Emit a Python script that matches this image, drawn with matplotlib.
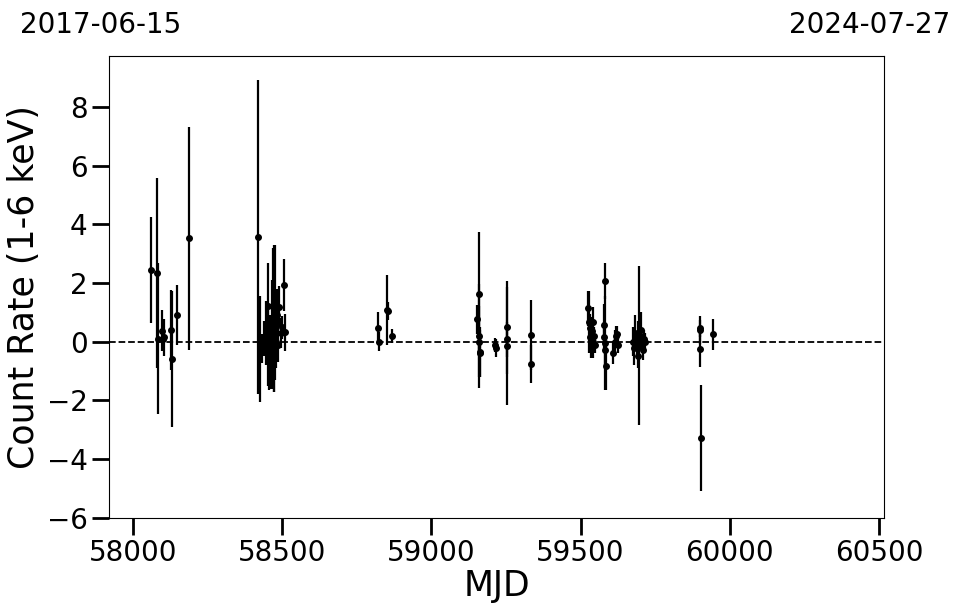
import numpy as np
import matplotlib
matplotlib.use('Agg')
import matplotlib.pyplot as plt

# light curve: MJD, count rate (1-6 keV), 1-sigma error
mjd = [58060, 58081, 58083, 58098, 58101, 58104, 58128, 58129, 58146, 58188,
       58420, 58425, 58431, 58438, 58444, 58451, 58452, 58455, 58458, 58462,
       58465, 58468, 58471, 58473, 58475, 58478, 58481, 58485, 58490, 58494,
       58498, 58507, 58510,
       58822, 58825, 58852, 58855, 58867,
       59153, 59158, 59160, 59161, 59163, 59164, 59213, 59215, 59252, 59253,
       59254, 59333, 59335,
       59525, 59527, 59530, 59533, 59535, 59537, 59540, 59542, 59545, 59548,
       59578, 59579, 59581, 59582, 59583, 59584,
       59610, 59614, 59618, 59622, 59626,
       59676, 59680, 59684, 59688, 59692, 59694, 59697, 59700, 59704, 59708,
       59712, 59716,
       59899, 59900, 59901, 59902, 59943]
rate = [2.44, 2.33, 0.10, 0.38, 0.10, 0.15, 0.40, -0.59, 0.91, 3.52,
        3.58, -0.24, -0.23, 0.10, 0.30, 1.22, -0.10, -0.40, 0.20, -0.60,
        0.30, 0.80, 0.80, -0.20, 1.00, 0.00, 0.90, -0.10, 1.19, 0.30,
        0.49, 1.93, 0.32,
        0.46, 0.00, 1.08, 1.05, 0.19,
        0.76, 0.00, 1.63, 0.19, -0.34, -0.40, -0.11, -0.22, 0.49, 0.08,
        -0.15, 0.22, -0.76,
        1.14, 0.68, 0.46, 0.16, -0.17, 0.35, 0.68, 0.00, 0.20, -0.10,
        0.57, 0.17, -0.05, 2.07, -0.28, -0.83,
        -0.40, 0.00, 0.19, 0.25, -0.10,
        0.00, -0.20, 0.30, -0.10, -0.50, 0.20, -0.13, 0.20, 0.40, -0.28,
        0.10, 0.00,
        0.40, 0.45, -0.26, -3.29, 0.26]
err = [1.80, 3.24, 2.57, 0.71, 0.40, 0.63, 1.36, 2.31, 1.02, 3.80,
       5.35, 1.80, 0.50, 0.60, 1.10, 1.45, 1.40, 1.25, 0.70, 1.00,
       1.80, 2.40, 2.50, 1.50, 2.30, 0.90, 0.90, 0.60, 0.70, 0.50,
       0.40, 0.88, 0.63,
       0.55, 0.32, 1.20, 0.30, 0.24,
       0.50, 1.20, 2.12, 1.77, 0.85, 0.80, 0.25, 0.30, 1.58, 0.60,
       2.00, 1.20, 0.65,
       0.60, 1.06, 0.50, 0.40, 0.40, 0.50, 0.50, 0.57, 0.30, 0.30,
       0.70, 0.50, 1.60, 0.62, 0.50, 0.82,
       0.36, 0.40, 0.35, 0.30, 0.30,
       0.50, 0.60, 0.60, 0.40, 0.40, 0.50, 2.70, 0.50, 0.60, 0.35,
       0.30, 0.30,
       0.48, 0.30, 0.60, 1.81, 0.53]

start_mjd, end_mjd = 57919, 60518
start_date, end_date = '2017-06-15', '2024-07-27'

fig = plt.figure(figsize=(9.62, 6.13), dpi=100)
ax = fig.add_axes([0.1133, 0.1555, 0.8059, 0.7536])

ax.errorbar(mjd, rate, yerr=err, fmt='o', color='black', ms=4, elinewidth=1.6, capsize=0)
ax.axhline(0, color='black', ls='--', lw=1.3)

ax.set_xlim(start_mjd, end_mjd)
ax.set_ylim(-6, 9.75)
ax.set_xticks([58000, 58500, 59000, 59500, 60000, 60500])
ax.set_yticks([-6, -4, -2, 0, 2, 4, 6, 8])
ax.tick_params(axis='both', which='major', labelsize=20, length=12, width=2)
ax.set_xlabel('MJD', fontsize=25, labelpad=1)
ax.set_ylabel('Count Rate (1-6 keV)', fontsize=25)

fig.text(20 / 962, 1 - 33 / 613, start_date, fontsize=20, ha='left', va='baseline')
fig.text(950 / 962, 1 - 33 / 613, end_date, fontsize=20, ha='right', va='baseline')

fig.savefig('out.png', dpi=100)
